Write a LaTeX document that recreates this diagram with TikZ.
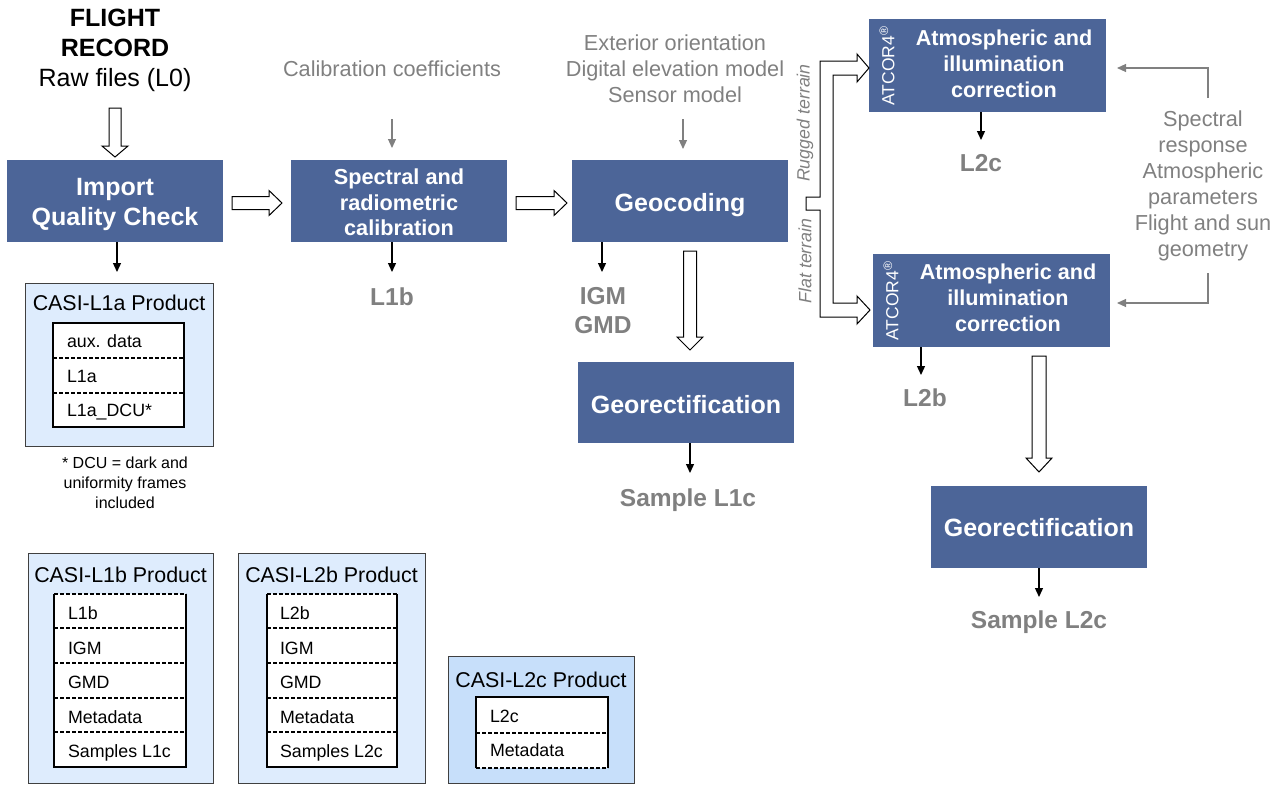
\documentclass[tikz,border=0pt]{standalone}
\usepackage{fontspec}
\setmainfont{Liberation Sans}
\usetikzlibrary{arrows.meta,calc}

\definecolor{boxblue}{RGB}{76,101,152}
\definecolor{txtgray}{RGB}{128,128,128}
\definecolor{lightfill}{RGB}{222,236,253}
\definecolor{darkfill}{RGB}{199,223,250}
\definecolor{boxline}{RGB}{64,64,64}

\newcommand\fs[2]{\fontsize{#1}{#2}\selectfont}
% hollow block arrows: x, y start, y tip, shaft half width, head half width, head length
\newcommand\hollowdown[6]{%
  \draw[fat] (#1-#4,#2) -- (#1+#4,#2) -- (#1+#4,#3-#6) -- (#1+#5,#3-#6) -- (#1,#3)
    -- (#1-#5,#3-#6) -- (#1-#4,#3-#6) -- cycle;}
% y, x start, x tip, shaft half width, head half width, head length
\newcommand\hollowright[6]{%
  \draw[fat] (#2,#1-#4) -- (#3-#6,#1-#4) -- (#3-#6,#1-#5) -- (#3,#1) -- (#3-#6,#1+#5)
    -- (#3-#6,#1+#4) -- (#2,#1+#4) -- cycle;}

\tikzset{
  every node/.style={outer sep=0pt},
  proc/.style={fill=boxblue, inner sep=0pt},
  proctext/.style={text=white, align=center, inner sep=0pt},
  big/.style={font=\bfseries\fs{25}{30}},
  bigcap/.style={text height=17.9pt, text depth=0pt},
  graylbl/.style={text=txtgray, font=\bfseries\fs{24.5}{29}, inner sep=0pt, align=center},
  capline/.style={text height=17.5pt, text depth=0pt},
  graytxt/.style={text=txtgray, font=\fs{21.7}{26}, align=center, inner sep=0pt},
  fat/.style={draw=black, fill=white, line width=1pt, line join=miter},
  blka/.style={draw=black, line width=1.3pt, -{Triangle[length=9pt,width=8pt]}},
  graya/.style={draw=txtgray, line width=1.1pt, -{Triangle[length=9pt,width=8pt]}},
  prod/.style={draw=boxline, line width=0.9pt, inner sep=0pt},
  prodtitle/.style={font=\fs{21.4}{24}, text height=15.3pt, text depth=0pt, inner sep=0pt},
  inner/.style={fill=white, inner sep=0pt},
  edge/.style={draw=black, line width=1.3pt},
  sepline/.style={draw=black, line width=1.2pt, dash pattern=on 4pt off 2pt},
  row/.style={anchor=west, font=\fs{17.8}{20}, text height=12.7pt, text depth=0pt, inner sep=0pt},
  terrain/.style={text=txtgray, font=\itshape\fs{17.8}{20}, rotate=90, inner sep=0pt},
  atcor/.style={text=white, font=\fs{17.5}{20}, rotate=90, inner sep=0pt},
  atext/.style={text=white, font=\bfseries\fs{21.6}{26}, align=center, inner sep=0pt}
}

\begin{document}
\begin{tikzpicture}[x=1pt,y=-1pt]
\useasboundingbox (0,0) rectangle (1280,785);

% ---------- input texts ----------
\node[align=center, font=\fs{25}{30}, inner sep=0pt] (flight) at (115,50.5)
  {\textbf{FLIGHT}\\\textbf{RECORD}\\Raw files (L0)};
\node[graytxt, text height=15.5pt, text depth=0pt] (calib) at (392,69) {Calibration coefficients};
\node[graytxt] (geoin) at (675,69) {Exterior orientation\\Digital elevation model\\Sensor model};
\node[graytxt] (atmin) at (1203,186) {Spectral\\response\\Atmospheric\\parameters\\Flight and sun\\geometry};

% ---------- processing boxes ----------
\node[proc, minimum width=216pt, minimum height=82pt] (imp) at (115,201) {};
\node[proctext, big] (impt) at (115,204) {Import\\Quality Check};
\node[proc, minimum width=216pt, minimum height=82pt] (spec) at (399,201) {};
\node[proctext, font=\bfseries\fs{21.7}{25.5}] (spect) at (399,202.5)
  {Spectral and\\radiometric\\calibration};
\node[proc, minimum width=216pt, minimum height=82pt] (geo) at (680,201) {};
\node[proctext, big, bigcap] (geot) at (680,203) {Geocoding};
\node[proc, minimum width=216pt, minimum height=81pt] (grm) at (686,402.5) {};
\node[proctext, big, bigcap] (grmt) at (686,404.5) {Georectification};
\node[proc, minimum width=237pt, minimum height=93pt] (atA) at (987.5,65.5) {};
\node[atext] (atAt) at (1004,64) {Atmospheric and\\illumination\\correction};
\node[atcor] (atAr) at (887,66) {ATCOR4\textsuperscript{\textregistered}};
\node[proc, minimum width=237pt, minimum height=93pt] (atB) at (991.5,300.5) {};
\node[atext] (atBt) at (1008,298) {Atmospheric and\\illumination\\correction};
\node[atcor] (atBr) at (891,301) {ATCOR4\textsuperscript{\textregistered}};
\node[proc, minimum width=216pt, minimum height=82pt] (grr) at (1039,527) {};
\node[proctext, big, bigcap] (grrt) at (1039,528) {Georectification};

% ---------- output labels ----------
\node[graylbl, capline] (l1b) at (392,297) {L1b};
\node[graylbl] (igm) at (603,310.5) {IGM\\GMD};
\node[graylbl, capline] (s1c) at (688,498) {Sample L1c};
\node[graylbl, capline] (l2c) at (981,163) {L2c};
\node[graylbl, capline] (l2b) at (925,398) {L2b};
\node[graylbl, capline] (s2c) at (1039,620) {Sample L2c};

% ---------- terrain fork ----------
\node[terrain] (rug) at (805,123) {Rugged terrain};
\node[terrain] (flat) at (805,261) {Flat terrain};
\draw[fat] (806,197) -- (820,197) -- (820,61) -- (857,61) -- (857,54) -- (869,68) -- (857,82)
  -- (857,75) -- (833,75) -- (833,303) -- (857,303) -- (857,296) -- (870,310) -- (857,324)
  -- (857,317) -- (820,317) -- (820,210) -- (806,210) -- cycle;

% ---------- hollow flow arrows ----------
\hollowdown{115}{108}{157}{6}{13}{11}
\hollowright{203}{232}{282}{6.5}{12.5}{13}
\hollowright{203}{516}{567}{6.5}{12.5}{13}
\hollowdown{690}{251}{350}{6.5}{13}{13}
\hollowdown{1039}{356}{472}{7}{13}{14}

% ---------- small arrows ----------
\draw[blka] ($(imp.south)+(2,0)$) -- ++(0,30);
\draw[blka] ($(spec.south)+(-7,0)$) -- ++(0,30);
\draw[blka] ($(geo.south)+(-78,0)$) -- ++(0,30);
\draw[blka] ($(grm.south)+(4,0)$) -- ++(0,30);
\draw[blka] ($(atA.south)+(-6.5,0)$) -- ++(0,28);
\draw[blka] ($(atB.south)+(-70.5,0)$) -- ++(0,28);
\draw[blka] (grr.south) -- ++(0,29);

\draw[graya] ($(spec.north)+(-7,-41)$) -- ++(0,29);
\draw[graya] ($(geo.north)+(3,-41)$) -- ++(0,30);
\coordinate (sA) at (1208,98);
\coordinate (sB) at (1208,273);
\draw[graya] (sA) |- ($(atA.east)+(11,2.5)$);
\draw[graya] (sB) |- ($(atB.east)+(7,2.5)$);

% ---------- CASI-L1a product ----------
\node[prod, fill=lightfill, minimum width=188pt, minimum height=163pt] (p1a) at (119,364.5) {};
\node[prodtitle] (p1at) at (119,303) {CASI-L1a Product};
\node[inner, draw=black, line width=1.3pt, minimum width=131pt, minimum height=104pt] (p1ai) at (118.5,375) {};
\draw[sepline] (53,358) -- (184,358);
\draw[sepline] (53,393) -- (184,393);
\node[row] (p1a1) at (67,341) {aux. data};
\node[row] (p1a2) at (67,376) {L1a};
\node[row] (p1a3) at (67,410) {L1a\_DCU*};
\node[align=center, font=\fs{16}{20}, inner sep=0pt] (note) at (125,483)
  {* DCU = dark and\\uniformity frames\\included};

% ---------- CASI-L1b product ----------
\node[prod, fill=lightfill, minimum width=185pt, minimum height=230pt] (p1b) at (120.5,668) {};
\node[prodtitle] (p1bt) at (120.5,575) {CASI-L1b Product};
\node[inner, minimum width=132pt, minimum height=173pt] (p1bi) at (120,680.5) {};
\draw[edge] (p1bi.north west) -- (p1bi.south west) -- (p1bi.south east) -- (p1bi.north east);
\draw[sepline] (p1bi.north west) -- (p1bi.north east);
\foreach \y in {628,663,698,732} \draw[sepline] (54,\y) -- (186,\y);
\node[row] (p1b1) at (68,613) {L1b};
\node[row] (p1b2) at (68,648) {IGM};
\node[row] (p1b3) at (68,682) {GMD};
\node[row] (p1b4) at (68,717) {Metadata};
\node[row] (p1b5) at (68,751) {Samples L1c};

% ---------- CASI-L2b product ----------
\node[prod, fill=lightfill, minimum width=187pt, minimum height=230pt] (p2b) at (331.5,668) {};
\node[prodtitle] (p2bt) at (331.5,575) {CASI-L2b Product};
\node[inner, minimum width=130pt, minimum height=173pt] (p2bi) at (332,680.5) {};
\draw[edge] (p2bi.north west) -- (p2bi.south west) -- (p2bi.south east) -- (p2bi.north east);
\draw[sepline] (p2bi.north west) -- (p2bi.north east);
\foreach \y in {628,663,698,732} \draw[sepline] (267,\y) -- (397,\y);
\node[row] (p2b1) at (280,613) {L2b};
\node[row] (p2b2) at (280,648) {IGM};
\node[row] (p2b3) at (280,682) {GMD};
\node[row] (p2b4) at (280,717) {Metadata};
\node[row] (p2b5) at (280,751) {Samples L2c};

% ---------- CASI-L2c product ----------
\node[prod, fill=darkfill, minimum width=186pt, minimum height=127pt] (p2c) at (541,719.5) {};
\node[prodtitle] (p2ct) at (541,680) {CASI-L2c Product};
\node[inner, minimum width=132pt, minimum height=71pt] (p2ci) at (542,732.5) {};
\draw[edge] (p2ci.south west) -- (p2ci.north west) -- (p2ci.north east) -- (p2ci.south east);
\draw[sepline] (p2ci.south west) -- (p2ci.south east);
\draw[sepline] (476,733) -- (608,733);
\node[row] (p2c1) at (490,716) {L2c};
\node[row] (p2c2) at (490,750) {Metadata};

\end{tikzpicture}
\end{document}
